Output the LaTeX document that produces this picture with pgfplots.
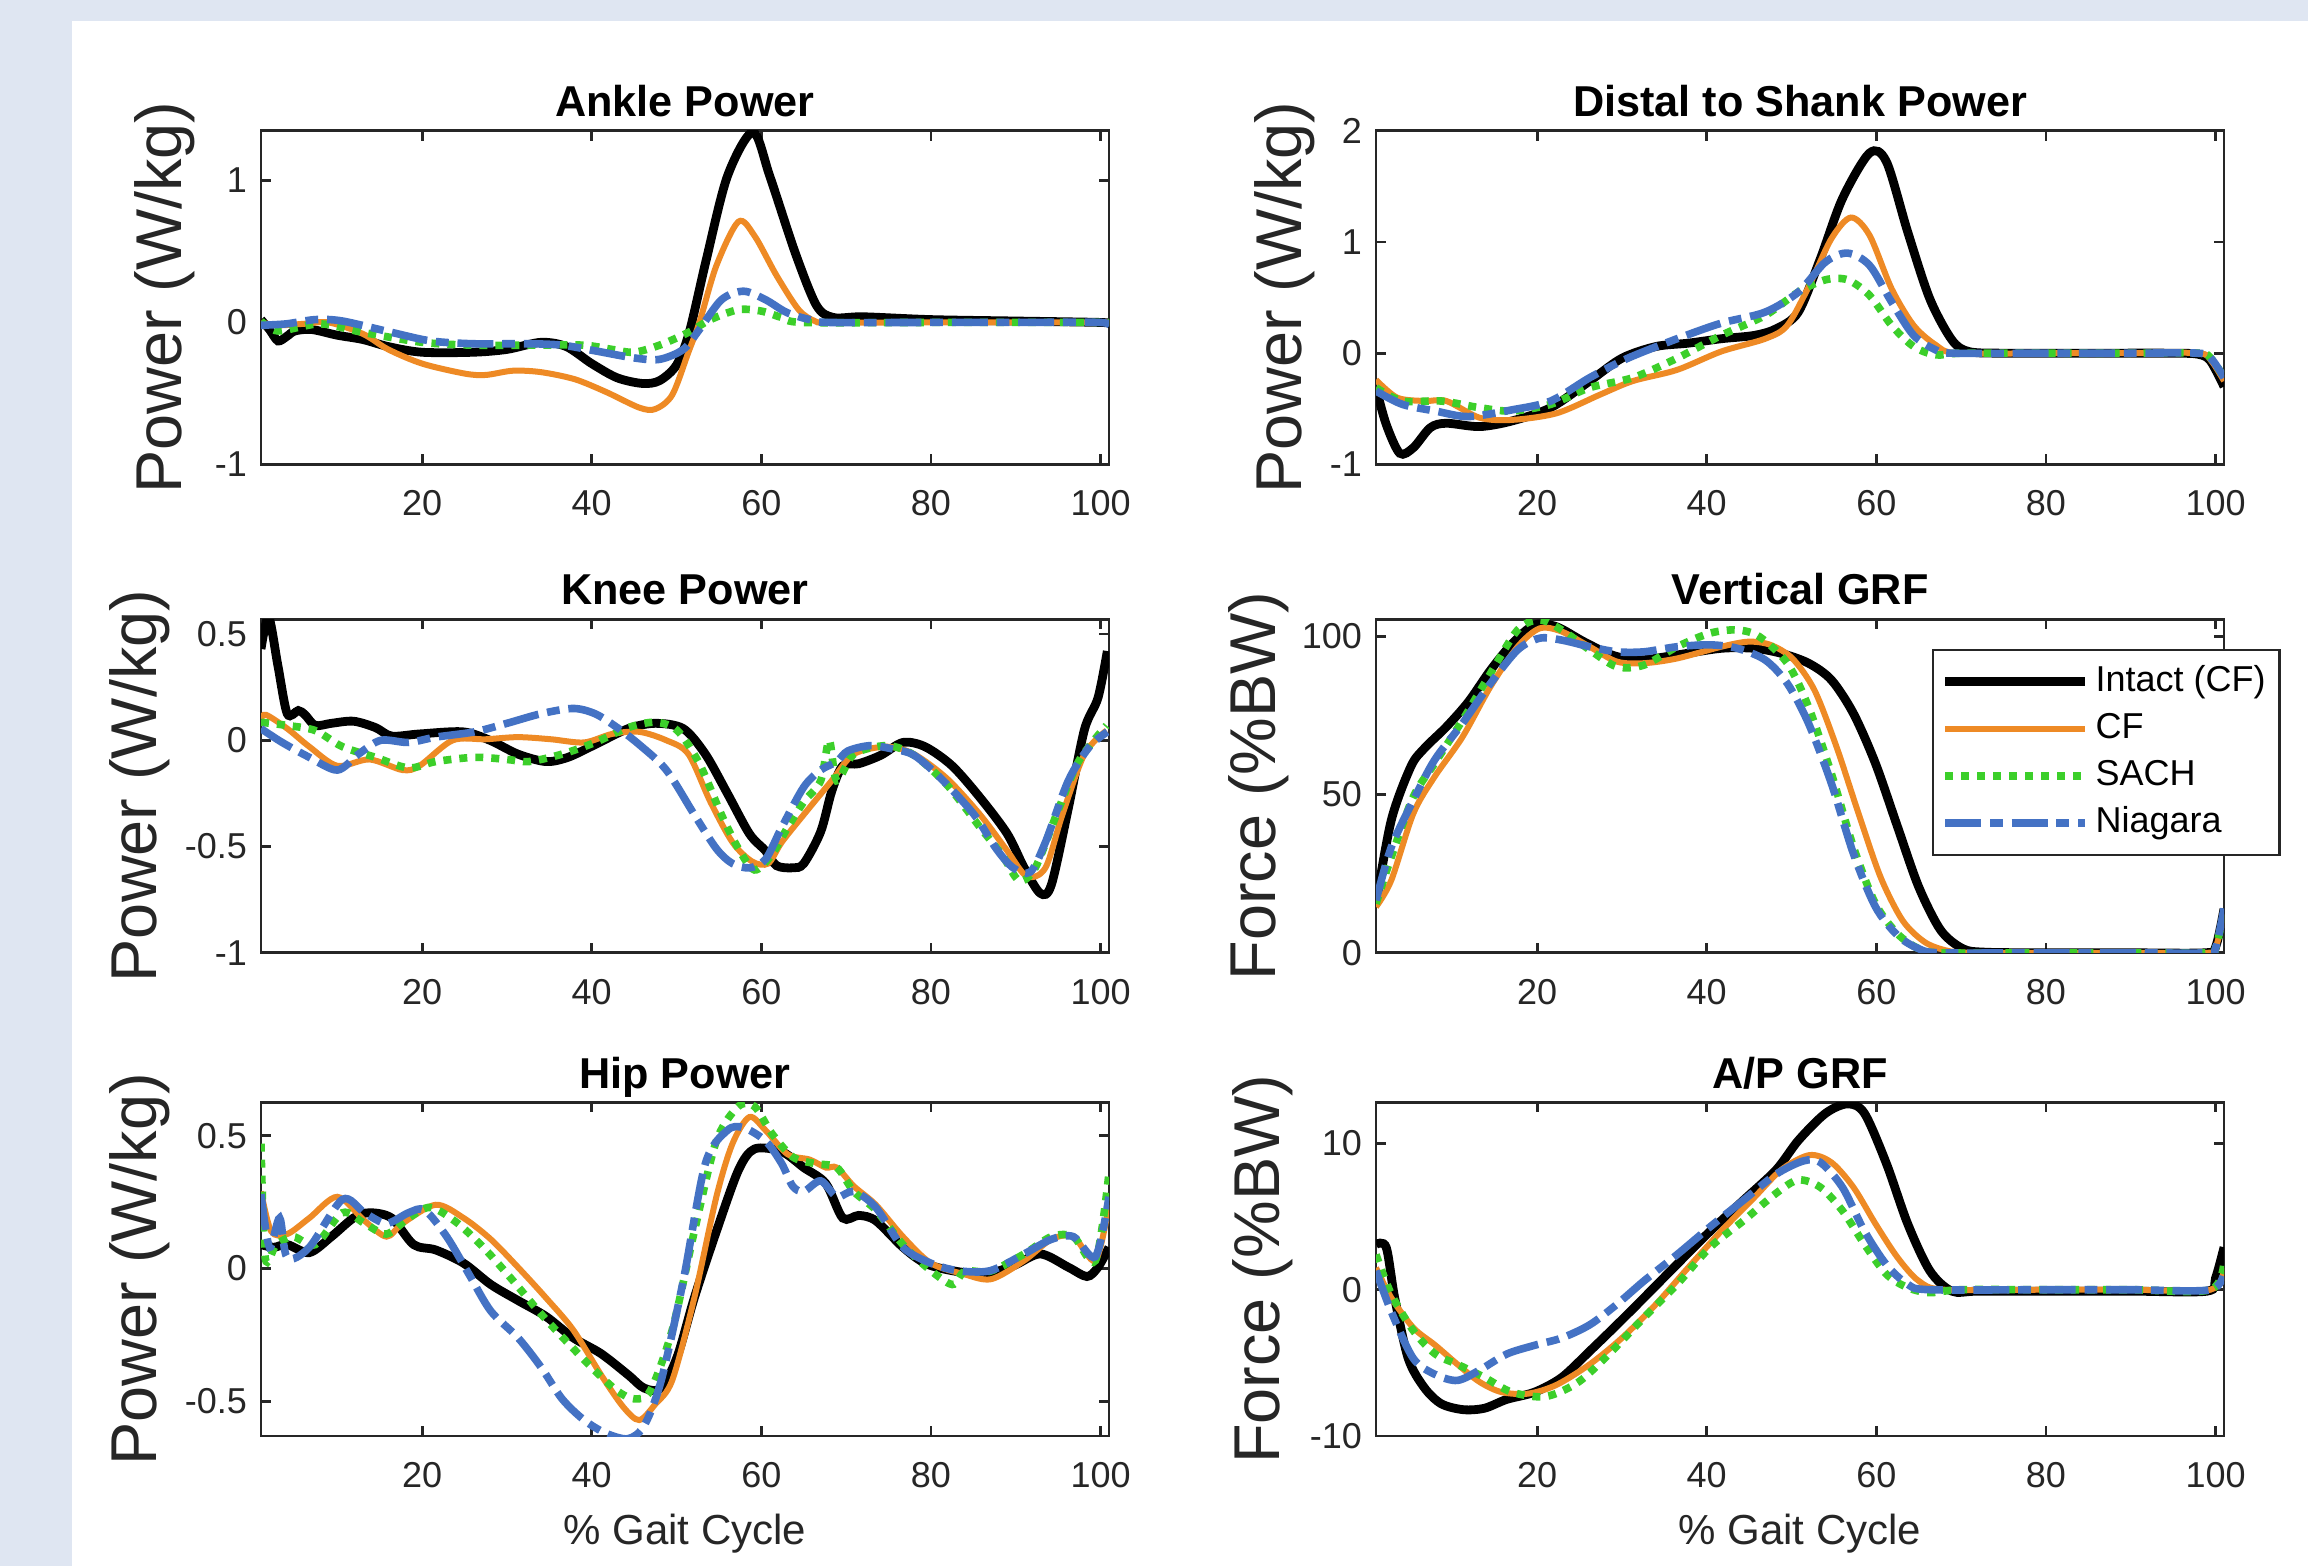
\documentclass[border=0pt]{standalone}
\usepackage{pgfplots}
\pgfplotsset{compat=1.18}
\usepackage{fontspec}
\setmainfont{Liberation Sans}
\definecolor{bgblue}{HTML}{DFE6F2}
\definecolor{cforange}{HTML}{EE8A25}
\definecolor{sachgreen}{HTML}{3CCF2A}
\definecolor{niagblue}{HTML}{4472C4}
\definecolor{axgray}{HTML}{262626}

\pgfplotsset{
  gait/.style={
    scale only axis, width=212pt, height=83.4pt,
    xmin=1, xmax=101, xtick={20,40,60,80,100},
    tick align=inside, tick pos=both, major tick length=2.5pt,
    axis line style={axgray, line width=0.7pt},
    every tick/.style={axgray, line width=0.7pt},
    tick label style={font=\fontsize{9}{10}\selectfont, text=axgray},
    /pgf/number format/assume math mode=true,
    xticklabel style={yshift=-3pt},
    every axis title shift=0pt,
    title style={font=\bfseries\fontsize{10.8}{12}\selectfont, at={(axis description cs:0.5,1)}, anchor=base, yshift=3.6pt},
  },
  ylab/.style={every axis y label/.style={at={(axis description cs:#1,0.5)}, rotate=90, anchor=center,
    font=\fontsize{16.2}{18}\selectfont, text=axgray}},
  xlab/.style={xlabel={\% Gait Cycle}, every axis x label/.style={at={(axis description cs:0.5,-0.326)}, anchor=base,
    font=\fontsize{10.5}{12}\selectfont, text=axgray}},
  intact/.style={black, line width=2.2pt, smooth},
  cf/.style={cforange, line width=1.5pt, smooth},
  sach/.style={sachgreen, line width=1.9pt, dash pattern=on 2pt off 2pt, smooth},
  niag/.style={niagblue, line width=1.9pt, dash pattern=on 9pt off 2.2pt on 3.2pt off 2.2pt, smooth},
}

\begin{document}
\begin{tikzpicture}
\useasboundingbox (0,0) rectangle (577pt,391.5pt);
\fill[bgblue] (0,0) rectangle (577pt,391.5pt);
\fill[white] (18pt,0) rectangle (577pt,386.25pt);

% Ankle Power
\begin{axis}[gait, ylab=-0.113, at={(65.25pt,275.4pt)}, anchor=south west,
  title={Ankle Power}, ylabel={Power (W/kg)}, ymin=-1, ymax=1.35, ytick={-1,0,1}]
\addplot[intact] coordinates {(1,0.02)(2,-0.05)(3,-0.13)(4,-0.1)(5,-0.06)(7,-0.05)(10,-0.09)(13,-0.12)(16,-0.17)(20,-0.21)(26,-0.21)(30,-0.19)(34,-0.14)(37,-0.17)(40,-0.29)(43,-0.39)(46,-0.43)(48,-0.41)(50,-0.3)(51.5,-0.07)(53.5,0.44)(56,1.03)(59,1.34)(61,1.03)(64,0.49)(66.5,0.12)(68.5,0.035)(72,0.04)(80,0.02)(90,0.01)(100,0.0)(101,-0.01)};
\addplot[cf] coordinates {(1,0.0)(3,-0.02)(6,-0.01)(9,0.0)(13,-0.08)(16,-0.19)(20,-0.29)(25,-0.36)(27.5,-0.37)(30.7,-0.34)(34,-0.35)(38,-0.4)(41.7,-0.49)(45.6,-0.6)(47.5,-0.61)(49.5,-0.51)(51.4,-0.21)(52.7,0)(54.7,0.4)(57.3,0.71)(59.2,0.61)(61.8,0.33)(64.4,0.09)(66.3,0.01)(68,0)(80,0)(90,0)(101,0)};
\addplot[sach] coordinates {(1,0.01)(3,-0.06)(8,-0.01)(13,-0.07)(20,-0.14)(26,-0.16)(33,-0.16)(39,-0.16)(42.4,-0.19)(45,-0.21)(48,-0.16)(51.4,-0.07)(54,0.02)(57.3,0.09)(60,0.08)(62.4,0.035)(65,0)(80,0)(90,0)(101,0)};
\addplot[niag] coordinates {(1,-0.02)(4,-0.01)(7.4,0.02)(10.6,0.01)(16.4,-0.07)(21,-0.13)(26,-0.15)(32.5,-0.15)(36.5,-0.16)(40.4,-0.2)(45,-0.25)(48,-0.26)(50.8,-0.19)(52.7,-0.05)(55.3,0.16)(57.9,0.22)(60.5,0.16)(63,0.07)(65.7,0.02)(68,0)(80,0)(90,0)(100,0)(101,-0.03)};
\end{axis}

% Distal to Shank Power
\begin{axis}[gait, ylab=-0.108, at={(344pt,275.4pt)}, anchor=south west,
  title={Distal to Shank Power}, ylabel={Power (W/kg)}, ymin=-1, ymax=2, ytick={-1,0,1,2}]
\addplot[intact] coordinates {(1,-0.31)(2.2,-0.64)(3.8,-0.9)(5.4,-0.85)(7.4,-0.67)(9.3,-0.63)(13.2,-0.66)(17,-0.61)(21.6,-0.49)(26.2,-0.25)(30,-0.045)(34,0.06)(37.8,0.09)(41.7,0.13)(45.6,0.16)(48.2,0.22)(50.8,0.37)(53.4,0.85)(56,1.39)(59.2,1.8)(61.2,1.72)(63.7,1.09)(66.3,0.49)(68.9,0.12)(70.9,0.015)(75,0)(85,0)(95,0)(98,-0.01)(99.4,-0.07)(101,-0.3)};
\addplot[cf] coordinates {(1,-0.24)(3.5,-0.4)(6.7,-0.43)(9.3,-0.43)(13.2,-0.58)(17,-0.6)(22.3,-0.54)(27.5,-0.37)(31.3,-0.25)(36.5,-0.15)(41.7,0.015)(46.9,0.13)(49.5,0.25)(52.1,0.61)(54.7,1.03)(57,1.22)(59.2,1.06)(61.8,0.58)(64.4,0.25)(67,0.075)(69.5,0)(80,0)(90,0)(98,0)(99.5,-0.07)(101,-0.25)};
\addplot[sach] coordinates {(1,-0.31)(4.1,-0.43)(8.7,-0.43)(13.2,-0.49)(17,-0.52)(21.6,-0.46)(26.2,-0.31)(31.3,-0.22)(36.5,-0.045)(41.7,0.16)(46.9,0.34)(50.8,0.55)(54,0.66)(56.6,0.66)(59.2,0.52)(61.8,0.25)(64.4,0.06)(67,-0.015)(70,0)(80,0)(90,0)(98,0)(99.5,-0.05)(101,-0.22)};
\addplot[niag] coordinates {(1,-0.34)(4.1,-0.46)(8,-0.52)(11.9,-0.57)(17,-0.51)(21.6,-0.43)(26.2,-0.22)(30.7,-0.045)(36.5,0.13)(41.7,0.27)(46.9,0.37)(50.8,0.55)(54,0.82)(56.6,0.9)(59.2,0.79)(61.8,0.46)(64.4,0.16)(67,0.03)(69,0)(80,0)(90,0)(98,0)(99.5,-0.05)(101,-0.22)};
\end{axis}

% Knee Power
\begin{axis}[gait, ylab=-0.143, at={(65.25pt,153.3pt)}, anchor=south west,
  title={Knee Power}, ylabel={Power (W/kg)}, ymin=-1, ymax=0.57, ytick={-1,-0.5,0,0.5}]
\addplot[intact] coordinates {(1,0.43)(1.9,0.58)(3,0.35)(4.1,0.125)(5.4,0.14)(6.2,0.12)(7.4,0.07)(9.3,0.08)(11.9,0.09)(14.5,0.06)(16.4,0.02)(19.7,0.03)(24.8,0.04)(28,0)(31.3,-0.065)(34.6,-0.1)(37.2,-0.08)(40.4,-0.02)(44.3,0.055)(47.5,0.08)(50.8,0.055)(53.4,-0.065)(56,-0.25)(58.6,-0.44)(60.5,-0.52)(61.8,-0.59)(63.7,-0.6)(65,-0.58)(67,-0.43)(68.3,-0.24)(69.6,-0.12)(71.5,-0.11)(74.1,-0.07)(76.7,-0.01)(79.3,-0.03)(82.5,-0.12)(85.8,-0.27)(89,-0.44)(91,-0.6)(92.9,-0.72)(94.2,-0.68)(96.2,-0.32)(98.1,0.05)(99.7,0.2)(100.8,0.42)};
\addplot[cf] coordinates {(1,0.1)(1.6,0.12)(4.1,0.055)(6.7,-0.03)(10,-0.12)(13.8,-0.09)(17.7,-0.14)(19.7,-0.12)(23.6,0)(27.5,0.005)(31.3,0.015)(35.2,0.005)(39.1,-0.01)(42.4,0.03)(45.6,0.04)(48.8,0)(51.4,-0.065)(54,-0.29)(56.6,-0.48)(58.9,-0.57)(60.8,-0.58)(62.4,-0.48)(65,-0.35)(68.3,-0.19)(70.9,-0.065)(74.8,-0.03)(78,-0.065)(81.9,-0.18)(85.8,-0.35)(89,-0.52)(91.3,-0.64)(93.5,-0.6)(95.5,-0.35)(98.1,-0.065)(100.7,0.046)};
\addplot[sach] coordinates {(1,0.085)(4.1,0.07)(7.4,0.046)(10.6,-0.03)(14.5,-0.08)(18.4,-0.13)(21.6,-0.1)(26.2,-0.08)(30,-0.09)(32.6,-0.1)(36.5,-0.065)(40.4,-0.01)(44.3,0.06)(47.5,0.085)(50.1,0.046)(52.7,-0.11)(55.3,-0.35)(57.3,-0.51)(59.2,-0.61)(61.2,-0.54)(63.1,-0.41)(65,-0.29)(67,-0.19)(68,0.0)(68.9,-0.19)(70.9,-0.065)(74.8,-0.025)(78,-0.07)(81.9,-0.21)(85.8,-0.41)(88.4,-0.54)(90.4,-0.66)(92.3,-0.6)(94.8,-0.35)(97.4,-0.1)(100.7,0.07)};
\addplot[niag] coordinates {(1,0.055)(3.5,-0.01)(6.7,-0.08)(10,-0.14)(12.5,-0.065)(15.1,0)(18.4,-0.01)(21.6,0.015)(26.2,0.04)(30,0.08)(34,0.125)(37.8,0.15)(40.4,0.125)(43,0.06)(45.6,-0.02)(48.8,-0.14)(52.1,-0.35)(54.7,-0.51)(56.6,-0.58)(58.6,-0.6)(60.5,-0.56)(62.4,-0.41)(65,-0.22)(67,-0.14)(68.9,-0.1)(70.2,-0.05)(72.8,-0.025)(75.4,-0.04)(78,-0.07)(81.2,-0.18)(85.1,-0.35)(87.7,-0.51)(89.7,-0.6)(91.7,-0.62)(93.5,-0.48)(96.2,-0.19)(98.7,-0.03)(100.8,0.04)};
\end{axis}

% Vertical GRF
\begin{axis}[gait, ylab=-0.138, at={(344pt,153.3pt)}, anchor=south west,
  title={Vertical GRF}, ylabel={Force (\%BW)}, ymin=0, ymax=105.4, ytick={0,50,100},
  legend style={at={(axis description cs:1.067,0.911)}, anchor=north east, draw=axgray, line width=0.6pt,
    font=\fontsize{9}{10}\selectfont, inner sep=2pt, row sep=0pt, fill=white,
    nodes={inner sep=1.5pt, text height=6.8pt, text depth=2pt}},
  legend cell align=left,
  legend image code/.code={\draw[#1] (0pt,0pt) -- (35pt,0pt);}]
\addplot[intact] coordinates {(1,15.5)(2.8,41.9)(5.1,58.8)(6.7,64.6)(9.3,71.4)(11.9,79.3)(14.5,89.3)(17.1,97.8)(19.7,103.6)(22.3,103)(25.5,98.3)(28.8,94.1)(32,92.5)(36.5,94.1)(41.7,96.2)(45.6,96.2)(48.8,94.6)(52,91.5)(54.7,86.2)(57.3,75.6)(59.9,59.8)(62.5,39.8)(65,20.8)(67.6,7.1)(70.2,1.3)(72.8,0.2)(80,0)(90,0)(98.7,0)(100,1.8)(101,13.9)};
\addplot[cf] coordinates {(1,14.5)(2.8,22.9)(5.4,44)(7.9,55.6)(11.2,68.2)(14.5,84.1)(17.7,96.7)(20.3,102.5)(22.9,101.5)(26.2,96.7)(29.4,92)(32.6,91.5)(36.5,93)(41.7,96.7)(44.9,98.3)(47.5,97.3)(50.1,93)(52.7,83)(55.3,65.1)(57.9,44)(60.5,23.9)(63.1,10.2)(65.7,3.4)(68.3,0.7)(71,0)(80,0)(90,0)(99,0)(100,1.5)(101,12.3)};
\addplot[sach] coordinates {(1,15.5)(2.8,30.3)(5.4,49.3)(7.9,59.8)(11.2,73.5)(14.5,88.3)(17.7,102)(20.3,105.2)(22.9,102)(26.2,95.7)(29.4,90.4)(32.6,90.9)(36.5,96.7)(40.4,101)(43.6,102)(46.2,99.9)(49.5,91.5)(52,77.7)(54.7,56.6)(57.3,33.4)(59.9,15.5)(62.5,6)(65,1.3)(67.6,0)(80,0)(90,0)(99,0)(100,1.5)(101,13)};
\addplot[niag] coordinates {(1,16.6)(2.8,33.4)(5.4,48.2)(7.9,60.9)(11.2,72.5)(14.5,85.1)(17.7,95.7)(20.3,99.4)(22.9,98.8)(26.2,96.7)(29.4,95.1)(32.6,95.1)(36.5,96.7)(40.4,97.3)(43.6,96.2)(46.9,92.5)(49.5,85.1)(52,72.5)(54.7,53.5)(57.3,31.3)(59.9,14.5)(62.5,5.5)(65,1.3)(67.6,0)(80,0)(90,0)(99,0)(100,1.5)(101,14)};
\legend{Intact (CF), CF, SACH, Niagara}
\end{axis}

% Hip Power
\begin{axis}[gait, xlab, ylab=-0.143, at={(65.25pt,32.5pt)}, anchor=south west,
  title={Hip Power}, ylabel={Power (W/kg)}, ymin=-0.63, ymax=0.625, ytick={-0.5,0,0.5}]
\addplot[intact] coordinates {(1,0.09)(2.5,0.08)(4.1,0.09)(6.7,0.06)(9.3,0.12)(11.9,0.19)(13.8,0.21)(16.4,0.19)(19,0.09)(21.6,0.07)(24.9,0.02)(28.1,-0.06)(31.3,-0.12)(34.6,-0.18)(37.8,-0.26)(41.1,-0.32)(44.3,-0.4)(46.2,-0.45)(48.2,-0.45)(50.1,-0.33)(52.1,-0.11)(54.7,0.14)(57.3,0.37)(59.2,0.45)(62.4,0.44)(65,0.38)(67.6,0.32)(69.6,0.19)(71.5,0.2)(73.5,0.18)(76.7,0.08)(79.3,0.02)(82.5,-0.008)(86.4,-0.02)(89.7,0.01)(92.9,0.055)(96.2,0.005)(98.4,-0.03)(99.7,0.005)(101,0.08)};
\addplot[cf] coordinates {(1,0.29)(2.2,0.14)(4.1,0.13)(6.7,0.19)(10,0.27)(13.2,0.18)(15.8,0.12)(17.7,0.17)(21.6,0.24)(24.9,0.19)(28.1,0.11)(31.3,0.005)(34.6,-0.11)(37.8,-0.23)(41.1,-0.4)(43.7,-0.52)(45.6,-0.57)(47.5,-0.51)(49.5,-0.42)(52.1,-0.11)(54.7,0.27)(56.6,0.47)(58.6,0.57)(60.5,0.52)(63.1,0.43)(65.7,0.41)(67.6,0.38)(68.9,0.38)(70.9,0.31)(73.5,0.24)(76.7,0.12)(80,0.02)(83.8,-0.02)(87.1,-0.04)(91,0.03)(94.2,0.11)(96.8,0.12)(99.4,0.03)(101,0.24)};
\addplot[sach] coordinates {(1,0.47)(1.5,0.04)(2.8,0.09)(4.8,0.12)(7.4,0.09)(10.6,0.21)(13.2,0.17)(15.8,0.13)(18.4,0.19)(21,0.23)(24.2,0.17)(27.5,0.07)(30.7,-0.045)(34,-0.17)(37.2,-0.28)(40.4,-0.385)(43,-0.46)(45,-0.49)(46.9,-0.46)(49.5,-0.23)(52.1,0.14)(54.7,0.48)(57.3,0.61)(59.2,0.61)(61.2,0.51)(63.7,0.42)(66.3,0.395)(68.9,0.38)(70.9,0.29)(73.5,0.22)(76.7,0.09)(79.5,0.005)(82.5,-0.06)(84,-0.01)(87,-0.01)(91,0.055)(94.2,0.12)(96.8,0.12)(99.4,0.03)(101,0.36)};
\addplot[niag] coordinates {(1,0.28)(2,0.08)(3.2,0.19)(4.1,0.04)(6.7,0.08)(10.6,0.26)(13.2,0.21)(15.8,0.17)(18.4,0.21)(20.3,0.22)(22.9,0.12)(25.5,-0.02)(28.1,-0.16)(31.3,-0.26)(34,-0.37)(36.5,-0.49)(39.1,-0.57)(41.7,-0.62)(44.3,-0.64)(46.2,-0.59)(48.2,-0.42)(50.8,-0.045)(53.4,0.395)(56,0.52)(57.9,0.53)(60.5,0.48)(62.4,0.395)(63.7,0.31)(65,0.29)(67,0.33)(68.9,0.27)(70.9,0.29)(73.5,0.23)(76.7,0.08)(80,0.02)(83.2,-0.008)(87,-0.008)(91,0.055)(94.2,0.11)(96.8,0.12)(99.4,0.045)(101,0.27)};
\end{axis}

% A/P GRF
\begin{axis}[gait, xlab, ylab=-0.134, at={(344pt,32.5pt)}, anchor=south west,
  title={A/P GRF}, ylabel={Force (\%BW)}, ymin=-10, ymax=12.8, ytick={-10,0,10}]
\addplot[intact] coordinates {(1,3.1)(2.2,2.9)(3.2,-0.55)(4.8,-4.7)(6.7,-6.7)(8.7,-7.8)(11.3,-8.2)(13.8,-8.1)(16.4,-7.5)(19.7,-7)(22.9,-6)(26.2,-4.2)(29.4,-2.4)(32.6,-0.55)(36.5,1.74)(40.4,4)(44.3,6.1)(48.2,8.2)(50.8,10.2)(54,12.05)(56.6,12.7)(58.6,12.05)(61.2,8.6)(63.7,4.5)(66.3,1.3)(68.9,-0.1)(72,-0.1)(80,-0.1)(90,-0.1)(99,-0.1)(100,0.8)(101,2.9)};
\addplot[cf] coordinates {(1,1.5)(2.8,-0.55)(5.4,-2.6)(8,-3.8)(10.6,-5.1)(13.2,-6.3)(15.8,-7)(19,-7.1)(22.3,-6.5)(26.2,-5.1)(30,-3.3)(34,-1)(37.8,1.5)(41.7,4)(45.6,6.3)(48.8,8.2)(52.1,9.2)(54.7,8.7)(57.3,7)(59.9,4.5)(62.5,2.2)(65,0.6)(68,0)(80,0)(90,0)(99.4,0)(101,1.5)};
\addplot[sach] coordinates {(1,2.4)(2.8,-0.3)(5.4,-2.8)(8,-4.4)(10.6,-5.1)(13.8,-6)(17,-7)(21,-7.3)(24.9,-6.3)(28.8,-4.2)(32.6,-1.9)(36.5,0.37)(40.4,2.9)(44.3,4.7)(48.2,6.6)(50.8,7.5)(53.4,7)(56,5.4)(58.6,3.1)(61.2,1.05)(63.7,0.14)(66.3,-0.2)(70,0)(80,0)(90,0)(99.4,0)(101,2)};
\addplot[niag] coordinates {(1,1.3)(2.8,-1.5)(5.4,-4.7)(8,-5.8)(10.6,-6.2)(13.2,-5.5)(16.4,-4.4)(19.7,-3.8)(22.9,-3.3)(26.2,-2.4)(29.4,-1)(32.6,0.6)(36.5,2.4)(40.4,4.3)(44.3,6.1)(48.2,7.9)(51.4,8.8)(53.4,8.7)(56,7)(58.6,4)(61.2,1.7)(63.7,0.37)(66.3,0)(80,0)(90,0)(99.4,0)(101,1.3)};
\end{axis}
\end{tikzpicture}
\end{document}
